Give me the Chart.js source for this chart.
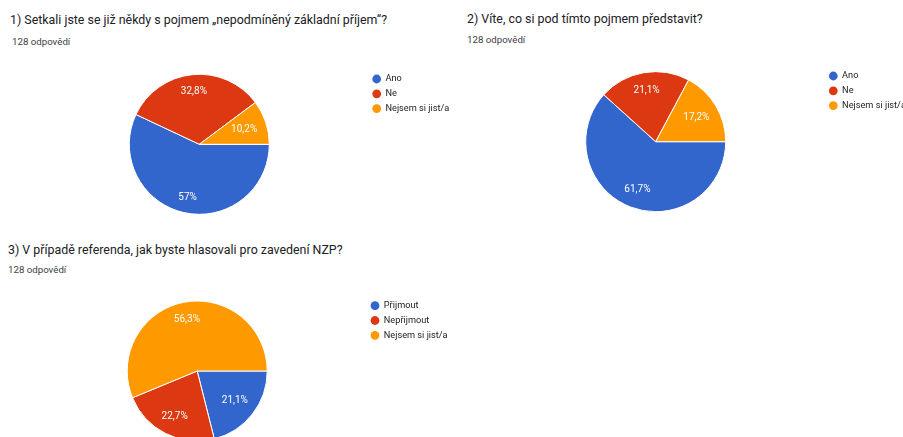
<!DOCTYPE html>
<html>
<head>
<meta charset="utf-8">
<script src="https://cdn.jsdelivr.net/npm/chart.js@4/dist/chart.umd.min.js"></script>
<style>
html,body{margin:0;padding:0;background:#fff;width:903px;height:437px;overflow:hidden;position:relative;font-family:Roboto,Arial,sans-serif;}
.t{position:absolute;white-space:nowrap;color:#202124;font-size:12.4px;line-height:13px;}
.s{position:absolute;white-space:nowrap;color:#3c4043;font-size:9.7px;line-height:10px;}
canvas{position:absolute;}
</style>
</head>
<body>
<div class="t" style="left:10px;top:13.3px">1) Setkali jste se již někdy s pojmem „nepodmíněný základní příjem“?</div>
<div class="s" style="left:12px;top:36.7px">128 odpovědí</div>
<div class="t" style="left:467px;top:12.3px">2) Víte, co si pod tímto pojmem představit?</div>
<div class="s" style="left:467px;top:34.5px">128 odpovědí</div>
<div class="t" style="left:8px;top:242.6px">3) V případě referenda, jak byste hlasovali pro zavedení NZP?</div>
<div class="s" style="left:8px;top:264.5px">128 odpovědí</div>
<canvas id="c1"></canvas>
<canvas id="c2"></canvas>
<canvas id="c3"></canvas>
<script>
// ---- data (percent of 128 responses) ----
const q1Labels = ['Ano', 'Ne', 'Nejsem si jist/a'];
const q1Values = [57, 32.8, 10.2];
const q2Labels = ['Ano', 'Ne', 'Nejsem si jist/a'];
const q2Values = [61.7, 21.1, 17.2];
const q3Labels = ['Přijmout', 'Nepřijmout', 'Nejsem si jist/a'];
const q3Values = [21.1, 22.7, 56.3];
const sliceColors = ['#3366cc', '#dc3912', '#ff9900'];

const LABEL_SIZE = 10;
const LABEL_FONT = LABEL_SIZE + 'px Roboto, Arial, sans-serif';
function fmt(v) { return String(v).replace('.', ',') + '%'; }

const pctLabels = {
  id: 'pctLabels',
  afterDatasetsDraw(chart) {
    const ctx = chart.ctx;
    const meta = chart.getDatasetMeta(0);
    const vals = chart.data.datasets[0].data;
    ctx.save();
    ctx.font = LABEL_FONT;
    ctx.fillStyle = '#ffffff';
    ctx.textAlign = 'center';
    ctx.textBaseline = 'middle';
    meta.data.forEach((arc, i) => {
      const p = arc.getProps(['x', 'y', 'startAngle', 'endAngle', 'outerRadius'], true);
      const mid = (p.startAngle + p.endAngle) / 2;
      const txt = fmt(vals[i]);
      const w = ctx.measureText(txt).width, h = LABEL_SIZE;
      const ux = Math.cos(mid), uy = Math.sin(mid);
      const R = p.outerRadius * 0.875;
      const b = Math.abs(ux) * w / 2 + Math.abs(uy) * h / 2;
      const c = (w * w + h * h) / 4 - R * R;
      const d = -b + Math.sqrt(b * b - c);
      ctx.fillText(txt, p.x + ux * d, p.y + uy * d + 0.5);
    });
    ctx.restore();
  }
};

const LF = 9.2, LP = 5.6, BW = 8.4, BH = 6.2;

function config(labels, values, r, pad) {
  return {
    type: 'pie',
    data: {
      labels: labels,
      datasets: [{
        data: values,
        backgroundColor: sliceColors,
        borderColor: '#ffffff',
        borderWidth: 1
      }]
    },
    options: {
      responsive: false,
      animation: false,
      rotation: 90,
      radius: r,
      layout: { padding: pad },
      events: [],
      plugins: {
        tooltip: { enabled: false },
        legend: {
          display: true,
          position: 'right',
          align: 'start',
          labels: {
            usePointStyle: true,
            pointStyle: 'circle',
            boxWidth: BW,
            boxHeight: BH,
            padding: LP,
            textAlign: 'left',
            color: '#222222',
            font: { family: 'Roboto, Arial, sans-serif', size: LF },
            generateLabels(chart) {
              const items = Chart.overrides.pie.plugins.legend.labels.generateLabels(chart);
              return items.map(it => Object.assign(it, { lineWidth: 0, strokeStyle: it.fillStyle }));
            }
          }
        }
      },
    },
    plugins: [pctLabels]
  };
}

function build(id, labels, values, geo) {
  const cv = document.getElementById(id);
  // first pass: measure the legend box width
  cv.width = 600; cv.height = 200;
  let ch = new Chart(cv, config(labels, values, geo.r, 0));
  const legendW = ch.legend.width;
  ch.destroy();

  const legendLeft = geo.lx - LP - BW / 2;
  const legendTop = geo.ly - LP - LF / 2;
  const areaLeft = 2 * geo.cx - legendLeft;
  const areaBottom = 2 * geo.cy - legendTop;
  const CL = Math.floor(areaLeft) - 2;
  const CT = Math.floor(legendTop) - 2;
  const CW = Math.ceil(legendLeft + legendW) + 2 - CL;
  const CH = Math.ceil(areaBottom) + 2 - CT;
  const pad = {
    left: areaLeft - CL,
    top: legendTop - CT,
    right: CL + CW - (legendLeft + legendW),
    bottom: CT + CH - areaBottom
  };
  cv.width = CW; cv.height = CH;
  cv.style.left = CL + 'px'; cv.style.top = CT + 'px';
  cv.style.width = CW + 'px'; cv.style.height = CH + 'px';
  new Chart(cv, config(labels, values, geo.r, pad));
}

build('c1', q1Labels, q1Values, { cx: 199.3, cy: 144.3, r: 70, lx: 376.7, ly: 79 });
build('c2', q2Labels, q2Values, { cx: 655.7, cy: 141.7, r: 70, lx: 833.3, ly: 76 });
build('c3', q3Labels, q3Values, { cx: 197.2, cy: 371, r: 70, lx: 375, ly: 305.7 });
</script>
</body>
</html>
